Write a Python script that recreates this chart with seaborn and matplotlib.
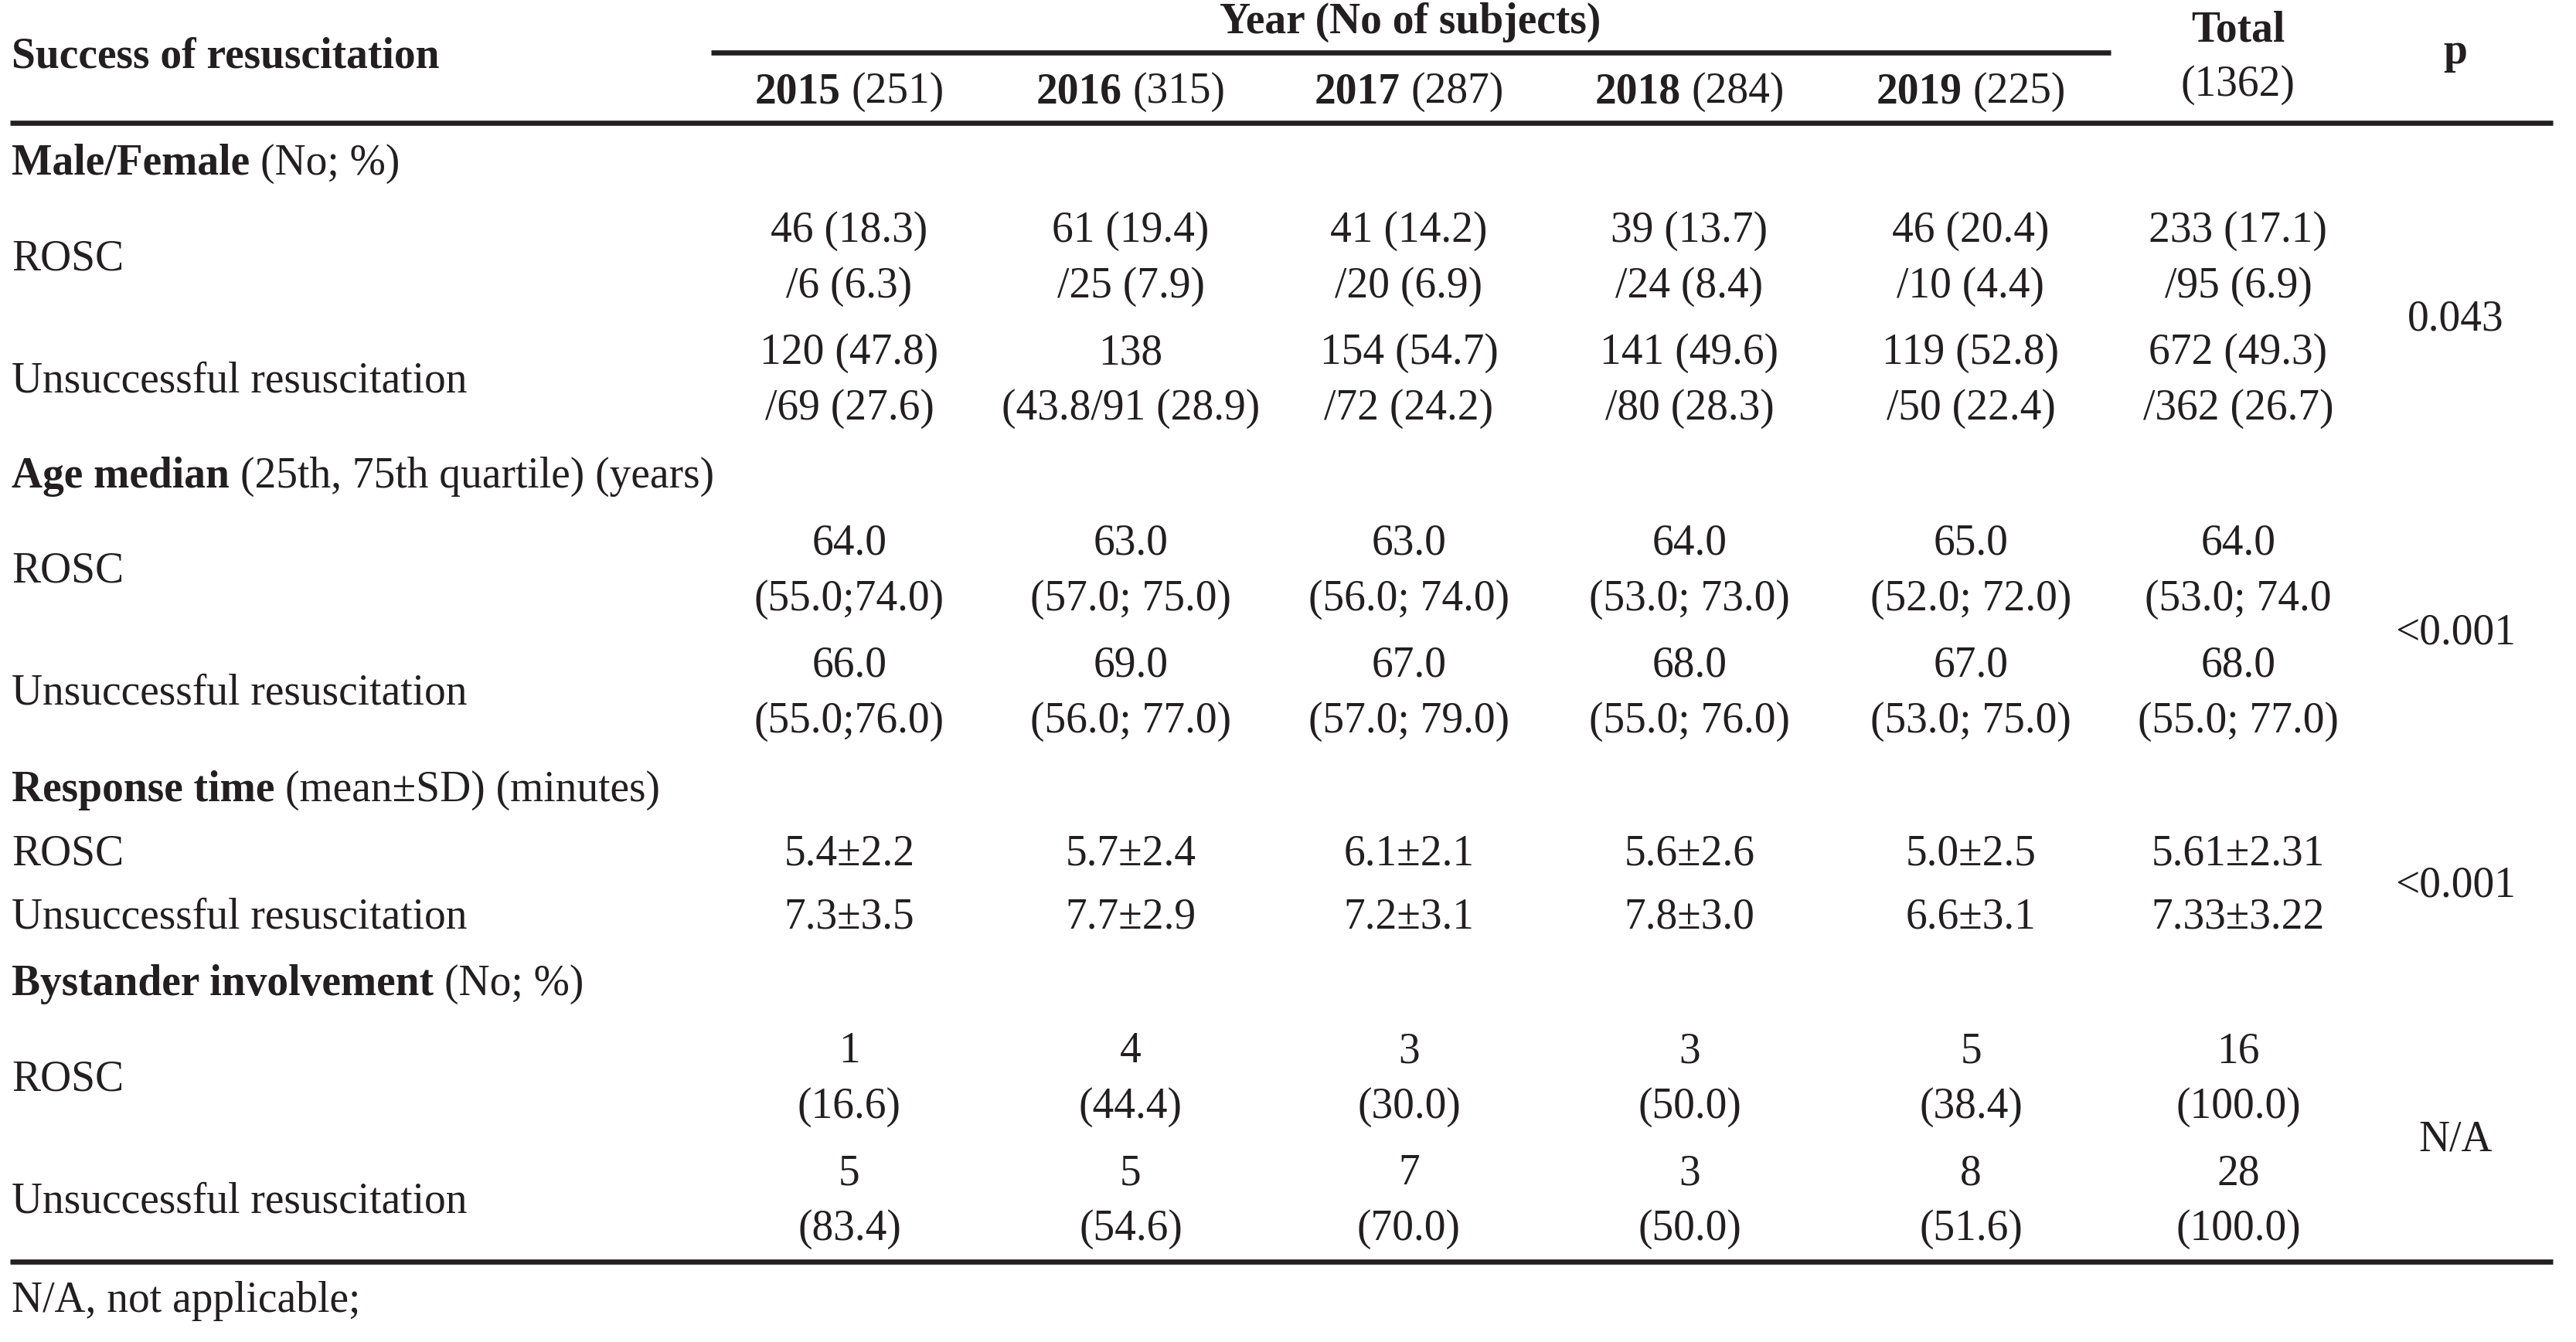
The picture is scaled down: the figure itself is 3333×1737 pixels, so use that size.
import matplotlib
matplotlib.use("Agg")
import matplotlib.pyplot as plt
import seaborn as sns

# table content
years = ["2015", "2016", "2017", "2018", "2019"]
n_subjects = [251, 315, 287, 284, 225]
n_total = 1362

section_bold = ["Male/Female", "Age median", "Response time", "Bystander involvement"]
section_rest = ["(No; %)", "(25th, 75th quartile) (years)", "(mean±SD) (minutes)", "(No; %)"]
row_labels = ["ROSC", "Unsuccessful resuscitation"]

mf_rosc = ["46 (18.3)\n/6 (6.3)", "61 (19.4)\n/25 (7.9)", "41 (14.2)\n/20 (6.9)",
           "39 (13.7)\n/24 (8.4)", "46 (20.4)\n/10 (4.4)", "233 (17.1)\n/95 (6.9)"]
mf_unsucc = ["120 (47.8)\n/69 (27.6)", "138\n(43.8/91 (28.9)", "154 (54.7)\n/72 (24.2)",
             "141 (49.6)\n/80 (28.3)", "119 (52.8)\n/50 (22.4)", "672 (49.3)\n/362 (26.7)"]
age_rosc = ["64.0\n(55.0;74.0)", "63.0\n(57.0; 75.0)", "63.0\n(56.0; 74.0)",
            "64.0\n(53.0; 73.0)", "65.0\n(52.0; 72.0)", "64.0\n(53.0; 74.0"]
age_unsucc = ["66.0\n(55.0;76.0)", "69.0\n(56.0; 77.0)", "67.0\n(57.0; 79.0)",
              "68.0\n(55.0; 76.0)", "67.0\n(53.0; 75.0)", "68.0\n(55.0; 77.0)"]
resp_rosc = ["5.4±2.2", "5.7±2.4", "6.1±2.1", "5.6±2.6", "5.0±2.5", "5.61±2.31"]
resp_unsucc = ["7.3±3.5", "7.7±2.9", "7.2±3.1", "7.8±3.0", "6.6±3.1", "7.33±3.22"]
by_rosc = ["1\n(16.6)", "4\n(44.4)", "3\n(30.0)", "3\n(50.0)", "5\n(38.4)", "16\n(100.0)"]
by_unsucc = ["5\n(83.4)", "5\n(54.6)", "7\n(70.0)", "3\n(50.0)", "8\n(51.6)", "28\n(100.0)"]
p_values = ["0.043", "<0.001", "<0.001", "N/A"]

sections = [(mf_rosc, mf_unsucc), (age_rosc, age_unsucc),
            (resp_rosc, resp_unsucc), (by_rosc, by_unsucc)]

# layout (pixels)
W, H = 3333, 1737
INK = "#231f20"
FS = 40
col_x = [1099, 1463, 1823, 2186, 2550, 2896]
p_x = 3177
left_x = 15
section_y = [226, 631, 1037, 1288]
line_step = 72

sns.set_theme(style="white")
plt.rcParams["font.family"] = ["Liberation Serif", "DejaVu Serif"]

fig = plt.figure(figsize=(W / 100, H / 100), dpi=100)
ax = fig.add_axes([0, 0, 1, 1])
ax.set_xlim(0, W)
ax.set_ylim(H, 0)
ax.set_axis_off()
renderer = fig.canvas.get_renderer()
space_w = 0.25 * FS * 100 / 72


def txt(x, y, s, ha="center", bold=False):
    return ax.text(x, y, s, ha=ha, va="baseline", fontsize=FS, color=INK,
                   fontweight="bold" if bold else "normal")


def mixed(x, y, bold, rest, center=False):
    t1 = txt(0, y, bold, ha="left", bold=True)
    t2 = txt(0, y, rest, ha="left")
    w1 = t1.get_window_extent(renderer).width
    w2 = t2.get_window_extent(renderer).width
    x0 = x - (w1 + space_w + w2) / 2 if center else x
    t1.set_x(x0)
    t2.set_x(x0 + w1 + space_w)


def cell(x, y, s):
    for i, line in enumerate(s.split("\n")):
        txt(x, y + i * line_step, line)


# header
txt(left_x, 88, "Success of resuscitation", ha="left", bold=True)
txt(1825, 43, "Year (No of subjects)", bold=True)
for x, yr, n in zip(col_x, years, n_subjects):
    mixed(x, 133, yr, f"({n})", center=True)
txt(col_x[-1], 53, "Total", bold=True)
txt(col_x[-1], 124, f"({n_total})")
txt(p_x, 82, "p", bold=True)

ax.hlines(68, 920, 2731, color=INK, lw=4.8)
ax.hlines(159, 13, 3303, color=INK, lw=4.8)
ax.hlines(1633, 13, 3303, color=INK, lw=4.8)

# body
for sy, b, r, (rosc, unsucc), pv in zip(section_y, section_bold, section_rest, sections, p_values):
    mixed(left_x, sy, b, r)
    n_lines = len(rosc[0].split("\n"))
    row_step = 158 if n_lines == 2 else 81
    first = sy + 87 if n_lines == 2 else sy + 83
    ys = []
    for k, (label, vals) in enumerate(zip(row_labels, (rosc, unsucc))):
        y0 = first + k * row_step
        for x, v in zip(col_x, vals):
            cell(x, y0, v)
        ly = y0 + (n_lines - 1) * line_step / 2
        txt(left_x, ly, label, ha="left")
        ys.append(ly)
    txt(p_x, sum(ys) / 2, pv)

txt(left_x, 1698, "N/A, not applicable;", ha="left")

fig.savefig("out.png", dpi=100, facecolor="white")
